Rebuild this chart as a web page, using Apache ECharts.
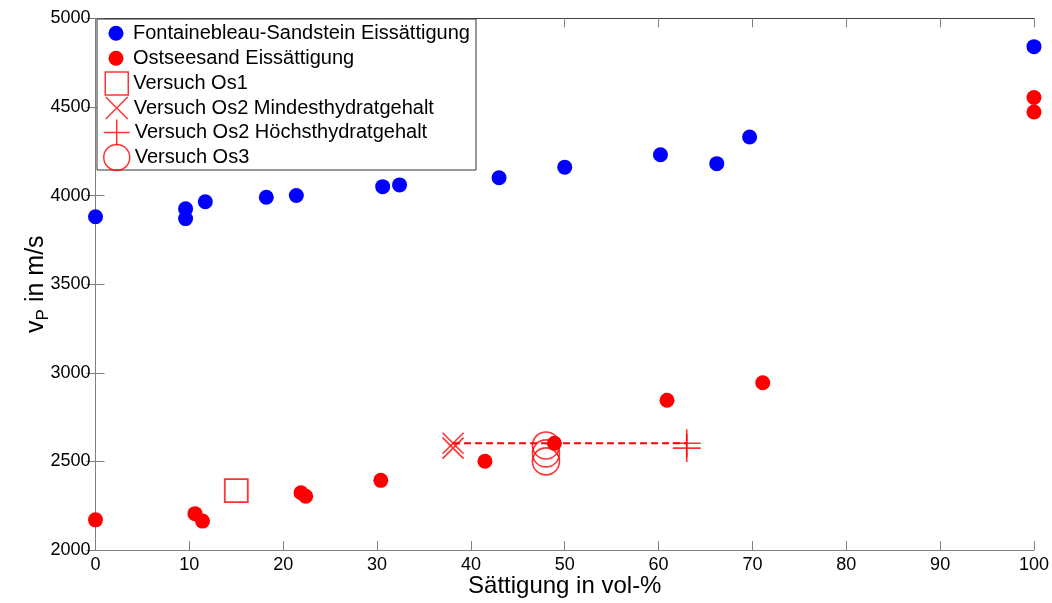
<!DOCTYPE html>
<html><head><meta charset="utf-8">
<script src="https://cdn.jsdelivr.net/npm/echarts@6/dist/echarts.min.js"></script>
<style>html,body{margin:0;padding:0;background:#fff}#c{width:1052px;height:603px}</style>
</head><body><div id="c"></div>
<script>
// ---- data ----
const xTicks = [0, 10, 20, 30, 40, 50, 60, 70, 80, 90, 100];
const yTicks = [2000, 2500, 3000, 3500, 4000, 4500, 5000];

const seriesNames = [
  'Fontainebleau-Sandstein Eissättigung',
  'Ostseesand Eissättigung',
  'Versuch Os1',
  'Versuch Os2 Mindesthydratgehalt',
  'Versuch Os2 Höchsthydratgehalt',
  'Versuch Os3'
];

const fbX = [0, 9.6, 9.6, 11.7, 18.2, 21.4, 30.6, 32.4, 43.0, 50.0, 60.2, 66.2, 69.7, 100];
const fbY = [3880, 3925, 3870, 3965, 3990, 4000, 4050, 4060, 4100, 4160, 4230, 4180, 4330, 4840];

const osX = [0, 10.6, 11.4, 21.9, 22.4, 30.4, 41.5, 48.9, 60.9, 71.1, 100, 100];
const osY = [2170, 2205, 2163, 2323, 2303, 2393, 2501, 2602, 2845, 2944, 4553, 4471];

const os1X = [15.0];
const os1Y = [2335];

const os2MinX = [38.1, 38.1];
const os2MinY = [2602, 2575];

const os2MaxX = [63.0, 63.0];
const os2MaxY = [2602, 2575];

const os3X = [48.0, 48.0, 48.0];
const os3Y = [2590, 2545, 2500];

// ---- chart ----
const FONT = '"Liberation Sans", Arial, Helvetica, sans-serif';
const RED = '#ff0000', BLUE = '#0000ff';
const pts = (xs, ys) => xs.map((x, i) => [x, ys[i]]);
const X_PATH = 'path://M0 0L10 10M10 0L0 10';
const PLUS_PATH = 'path://M5 0L5 10M0 5L10 5';

const chart = echarts.init(document.getElementById('c'), null, {renderer: 'canvas'});

const EMPTY = 'rgba(0,0,0,0)';
const legendRows = [
  {name: seriesNames[0], icon: 'circle', w: 24, h: 15, iw: 15, style: {color: BLUE, borderColor: BLUE, borderWidth: 0}},
  {name: seriesNames[1], icon: 'circle', w: 24, h: 15, iw: 15, style: {color: RED, borderColor: RED, borderWidth: 0}},
  {name: seriesNames[2], icon: 'rect', w: 23, h: 23, iw: 23, style: {color: EMPTY, borderColor: RED, borderWidth: 1.5}},
  {name: seriesNames[3], icon: X_PATH, w: 24, h: 22, iw: 22, style: {color: EMPTY, borderColor: RED, borderWidth: 1.5}},
  {name: seriesNames[4], icon: PLUS_PATH, w: 26, h: 26, iw: 26, style: {color: EMPTY, borderColor: RED, borderWidth: 1.5}},
  {name: seriesNames[5], icon: 'circle', w: 26, h: 26, iw: 26, style: {color: EMPTY, borderColor: RED, borderWidth: 1.5}}
];
const rowCenters = [33.3, 58.3, 82.7, 107.3, 131.7, 156.7];
const legendFont = 20;
const legends = legendRows.map((r, i) => {
  const boxH = Math.max(r.h, legendFont);
  return {
    data: [{name: r.name, icon: r.icon}],
    left: 116 - r.iw / 2,
    top: rowCenters[i] - boxH / 2,
    padding: 0,
    itemWidth: r.w,
    itemHeight: r.h,
    itemGap: 0,
    selectedMode: false,
    itemStyle: r.style,
    textStyle: {fontFamily: FONT, fontSize: legendFont, color: '#000'},
    z: 6
  };
});

const axisCol = '#808080';
const tickStyle = {show: true, inside: true, length: 9, lineStyle: {color: axisCol, width: 1}};
const plainNum = v => String(v);

const option = {
  backgroundColor: '#fff',
  animation: false,
  grid: {left: 95.5, right: 17.5, top: 18.3, bottom: 49.7, containLabel: false},
  graphic: [{
    type: 'rect', left: 96.5, top: 18.5, z: 5,
    shape: {width: 379, height: 151},
    style: {fill: '#fff', stroke: '#333', lineWidth: 1}
  }],
  legend: legends,
  xAxis: [{
    type: 'value', min: xTicks[0], max: xTicks[xTicks.length - 1], interval: xTicks[1] - xTicks[0],
    position: 'bottom',
    axisLine: {show: true, lineStyle: {color: axisCol, width: 1}},
    axisTick: tickStyle, splitLine: {show: false},
    axisLabel: {fontFamily: FONT, fontSize: 18, color: '#000', margin: 6, formatter: plainNum},
    name: 'Sättigung in vol-%', nameLocation: 'middle', nameGap: 24, nameMoveOverlap: false,
    nameTextStyle: {fontFamily: FONT, fontSize: 24, color: '#000'}
  }, {
    type: 'value', min: xTicks[0], max: xTicks[xTicks.length - 1], interval: xTicks[1] - xTicks[0],
    position: 'top',
    axisLine: {show: true, lineStyle: {color: '#404040', width: 1}},
    axisTick: tickStyle, splitLine: {show: false}, axisLabel: {show: false}
  }],
  yAxis: [{
    type: 'value', min: yTicks[0], max: yTicks[yTicks.length - 1], interval: yTicks[1] - yTicks[0],
    position: 'left',
    axisLine: {show: true, lineStyle: {color: axisCol, width: 1}},
    axisTick: tickStyle, splitLine: {show: false},
    axisLabel: {fontFamily: FONT, fontSize: 18, color: '#000', margin: 5, formatter: plainNum},
    name: '{v|v}{sub|P}{v| in m/s}', nameLocation: 'middle', nameGap: 44, nameRotate: 90,
    nameMoveOverlap: false,
    nameTextStyle: {
      fontFamily: FONT, color: '#000',
      rich: {
        v: {fontFamily: FONT, fontSize: 25, color: '#000', lineHeight: 30, verticalAlign: 'middle'},
        sub: {fontFamily: FONT, fontSize: 17, color: '#000', lineHeight: 30, verticalAlign: 'bottom'}
      }
    }
  }, {
    type: 'value', min: yTicks[0], max: yTicks[yTicks.length - 1], interval: yTicks[1] - yTicks[0],
    position: 'right',
    axisLine: {show: true, lineStyle: {color: axisCol, width: 1}},
    axisTick: tickStyle, splitLine: {show: false}, axisLabel: {show: false}
  }],
  series: [
    {name: 'Os2 Verbindung', type: 'line', data: [[os2MinX[0], os2MinY[0]], [os2MaxX[0], os2MaxY[0]]],
     symbol: 'none', silent: true, z: 2,
     lineStyle: {color: RED, width: 2, type: [7, 4]}},
    {name: seriesNames[0], type: 'scatter', data: pts(fbX, fbY), symbol: 'circle', symbolSize: 15,
     clip: false, z: 3, itemStyle: {color: BLUE, opacity: 1}},
    {name: seriesNames[1], type: 'scatter', data: pts(osX, osY), symbol: 'circle', symbolSize: 15,
     clip: false, z: 3, itemStyle: {color: RED, opacity: 1}},
    {name: seriesNames[2], type: 'scatter', data: pts(os1X, os1Y), symbol: 'rect', symbolSize: 23,
     clip: false, z: 3, itemStyle: {color: EMPTY, borderColor: RED, borderWidth: 1.8}},
    {name: seriesNames[3], type: 'scatter', data: pts(os2MinX, os2MinY), symbol: X_PATH, symbolSize: 21,
     clip: false, z: 3, itemStyle: {color: EMPTY, borderColor: RED, borderWidth: 1.6}},
    {name: seriesNames[4], type: 'scatter', data: pts(os2MaxX, os2MaxY), symbol: PLUS_PATH, symbolSize: 28,
     clip: false, z: 3, itemStyle: {color: EMPTY, borderColor: RED, borderWidth: 1.6}},
    {name: seriesNames[5], type: 'scatter', data: pts(os3X, os3Y), symbol: 'circle', symbolSize: 27,
     clip: false, z: 3, itemStyle: {color: EMPTY, borderColor: RED, borderWidth: 1.6}}
  ]
};
chart.setOption(option);
</script>
</body></html>
